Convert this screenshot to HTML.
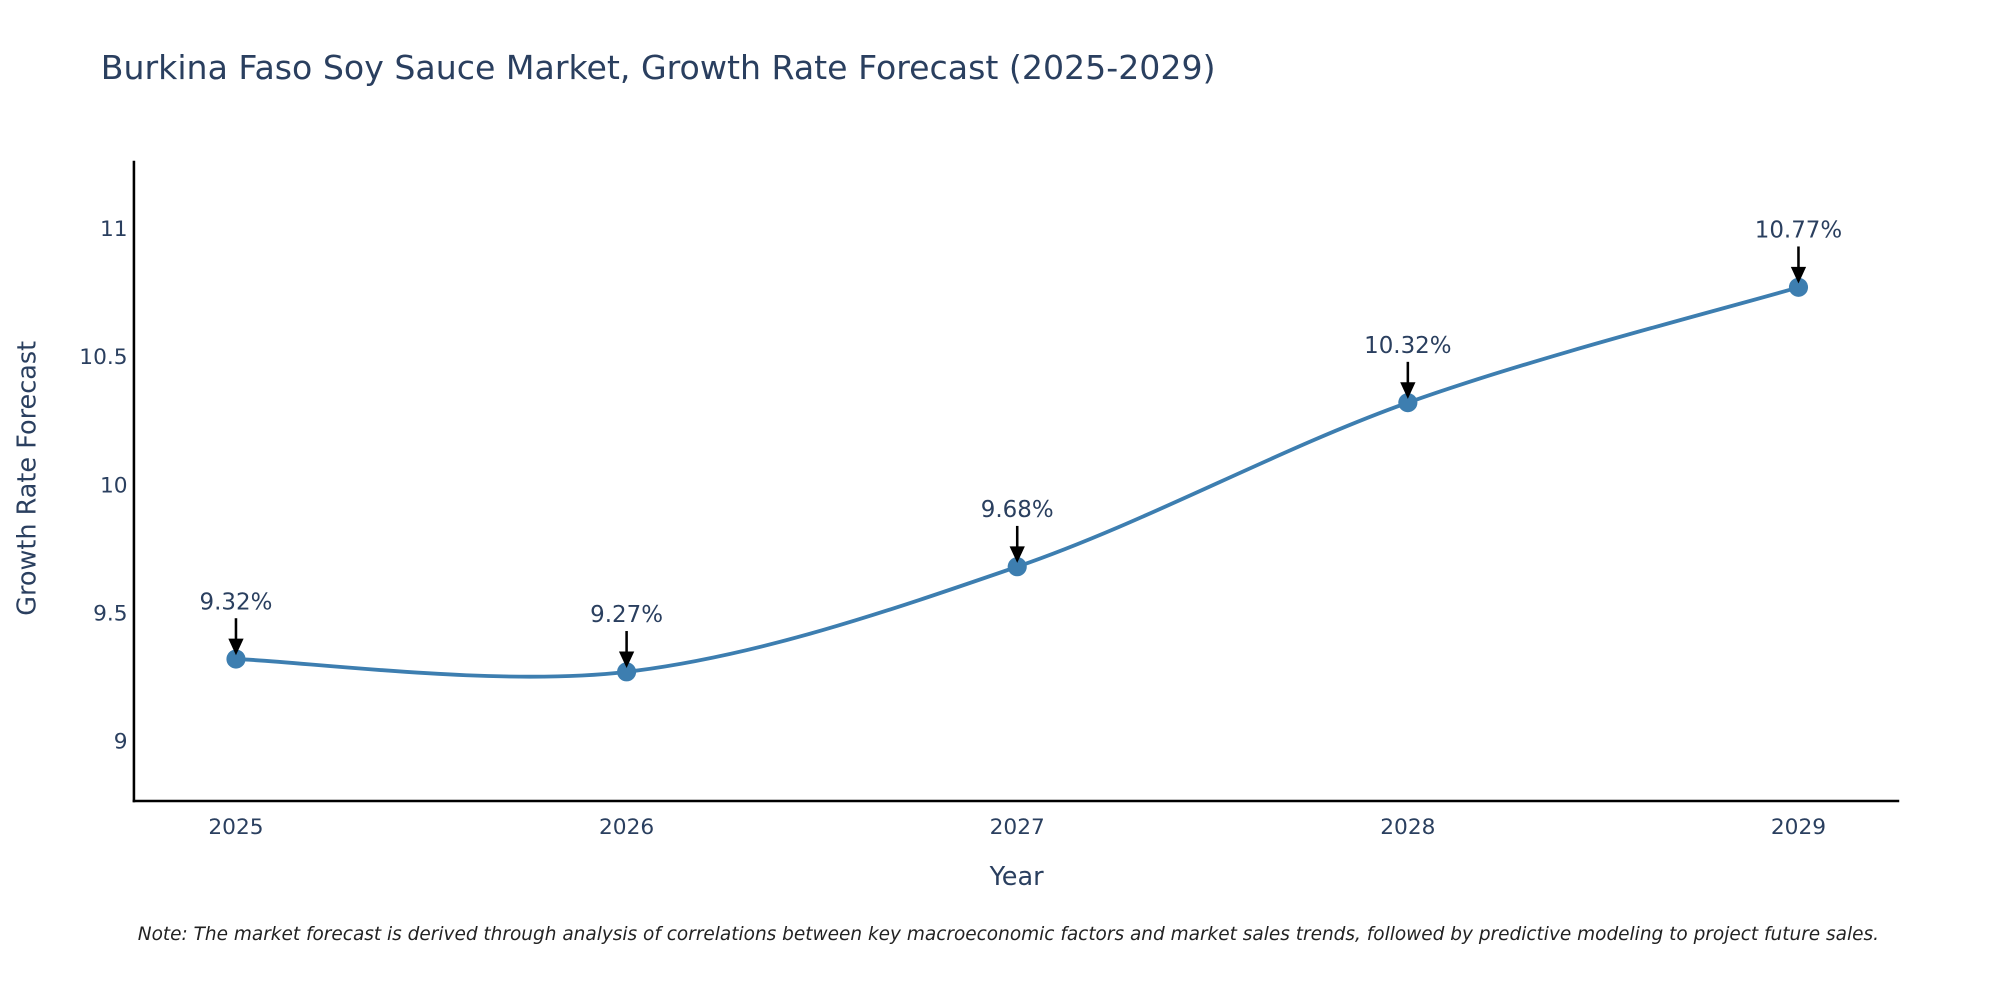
<!DOCTYPE html>
<html><head><meta charset="utf-8"><style>html,body{margin:0;padding:0;background:#fff}svg{display:block}</style></head>
<body>
<svg id="chart" width="2000" height="1000" viewBox="0 0 1568 784" preserveAspectRatio="none" xmlns="http://www.w3.org/2000/svg" font-family="'DejaVu Sans', 'Liberation Sans', sans-serif">
<rect width="1568" height="784" fill="#fff"/>
<text x="79" y="62" font-size="26" fill="#2a3f5f">Burkina Faso Soy Sauce Market, Growth Rate Forecast (2025-2029)</text>
<g id="axes"></g>
<g id="marks"></g>
<text x="797" y="694" font-size="20" fill="#2a3f5f" text-anchor="middle">Year</text>
<text transform="translate(28,375) rotate(-90)" font-size="20" fill="#2a3f5f" text-anchor="middle">Growth Rate Forecast</text>
<text x="108" y="737" font-size="14.5" font-style="italic" fill="#222">Note: The market forecast is derived through analysis of correlations between key macroeconomic factors and market sales trends, followed by predictive modeling to project future sales.</text>
</svg>
<script>
const years = [2025, 2026, 2027, 2028, 2029];
const values = [9.32, 9.27, 9.68, 10.32, 10.77];
const valueLabels = ["9.32%", "9.27%", "9.68%", "10.32%", "10.77%"];
const yTicks = [9, 9.5, 10, 10.5, 11];
const yTickLabels = ["9", "9.5", "10", "10.5", "11"];

const NS = "http://www.w3.org/2000/svg";
function xs(yr){ return 185 + (yr - 2025) * 306.25; }
function ys(v){ return 380 - (v - 10) * 201; }
function mk(tag, attrs, parent){ const e=document.createElementNS(NS,tag); for(const k in attrs) e.setAttribute(k, attrs[k]); parent.appendChild(e); return e; }
const axes = document.getElementById('axes');
const marks = document.getElementById('marks');

const yl = mk('line',{x1:105,y1:126,x2:105,y2:629,stroke:'#000','stroke-width':2},axes);


const xl = mk('line',{x1:104,y1:628,x2:1489,y2:628,stroke:'#000','stroke-width':2},axes);



yTicks.forEach((t,i)=>{
  const tx = mk('text',{x:100,y:ys(t)+6,'font-size':17,fill:'#2a3f5f','text-anchor':'end'},axes);
  tx.textContent = yTickLabels[i];
  
  
});
years.forEach(yr=>{
  const tx = mk('text',{x:xs(yr),y:654,'font-size':17,fill:'#2a3f5f','text-anchor':'middle'},axes);
  tx.textContent = String(yr);
  
  
});

const pts = years.map((yr,i)=>[xs(yr), ys(values[i])]);
let d = 'M'+pts[0][0]+','+pts[0][1];
const tns = 0.5;
for(let i=0;i<pts.length-1;i++){
  const p0 = pts[i-1]||pts[i], p1=pts[i], p2=pts[i+1], p3=pts[i+2]||pts[i+1];
  const c1 = [p1[0]+(p2[0]-p0[0])*tns/3, p1[1]+(p2[1]-p0[1])*tns/3];
  const c2 = [p2[0]-(p3[0]-p1[0])*tns/3, p2[1]-(p3[1]-p1[1])*tns/3];
  d += ' C'+c1[0]+','+c1[1]+' '+c2[0]+','+c2[1]+' '+p2[0]+','+p2[1];
}
const line = mk('path',{d:d,fill:'none',stroke:'#3d7eb0','stroke-width':3},marks);



pts.forEach((p,i)=>{
  const c = mk('circle',{cx:p[0],cy:p[1],r:7.5,fill:'#3d7eb0'},marks);
  
  
  const a = mk('line',{x1:p[0],y1:p[1]-32,x2:p[0],y2:p[1]-14,stroke:'#000','stroke-width':2},marks);
  
  
  const h = mk('polygon',{points:(p[0]-6)+','+(p[1]-16)+' '+(p[0]+6)+','+(p[1]-16)+' '+p[0]+','+(p[1]-3),fill:'#000'},marks);
  
  
  const t = mk('text',{x:p[0],y:p[1]-39,'font-size':18,fill:'#2a3f5f','text-anchor':'middle'},marks);
  t.textContent = valueLabels[i];
  
  
});
</script>
</body></html>
